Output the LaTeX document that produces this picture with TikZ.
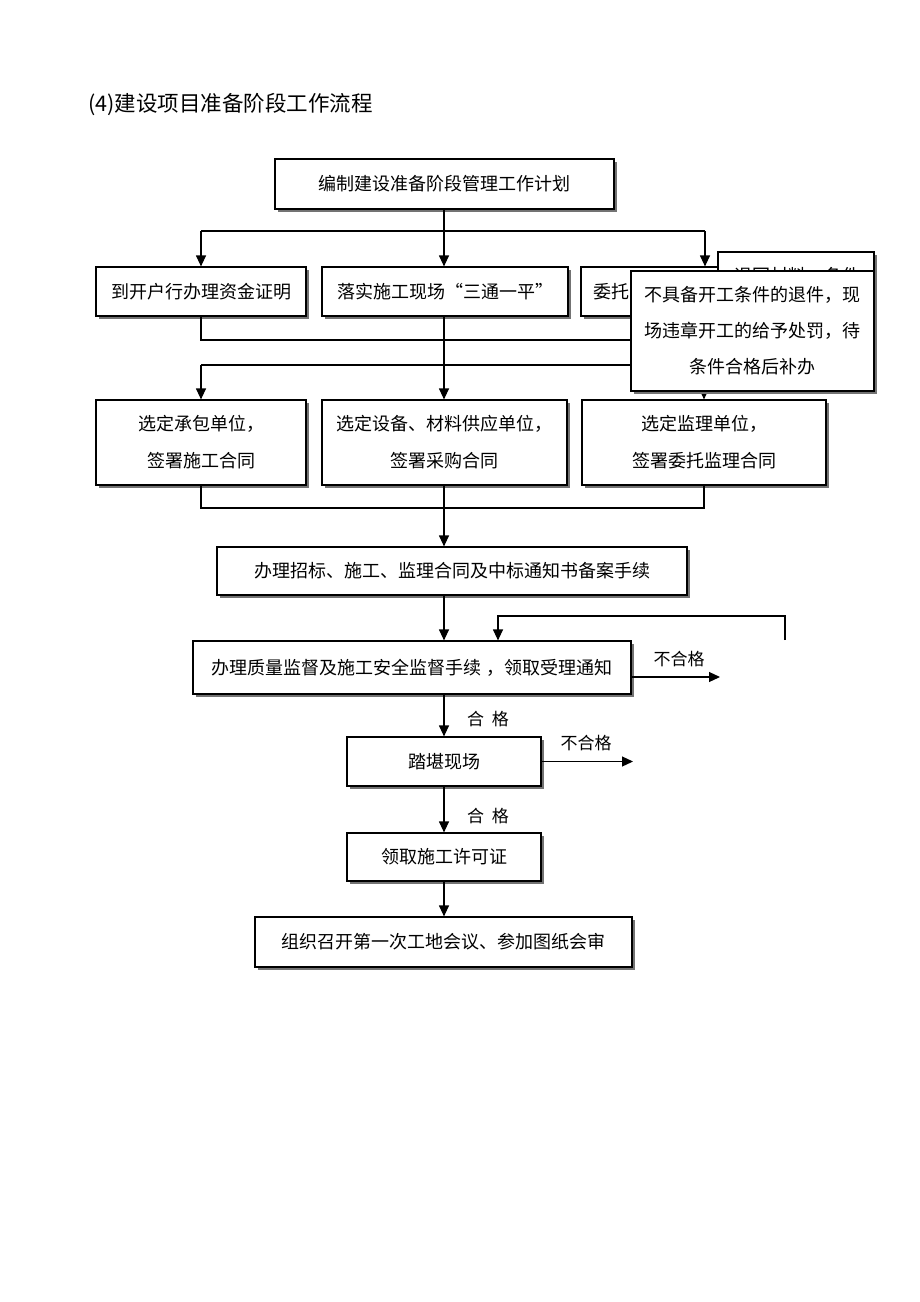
\documentclass[tikz,border=0pt]{standalone}
\usepackage{fontspec}
\setmainfont{Noto Sans CJK SC}
\usetikzlibrary{arrows.meta,shadows}
\begin{document}
\begin{tikzpicture}[x=1pt,y=-1pt,
  box/.style={draw, line width=1.2pt, fill=white, inner sep=0pt, align=center,
    font=\fontsize{18}{37}\selectfont,
    drop shadow={shadow xshift=3pt, shadow yshift=-3pt, fill=black!55, opacity=1}},
  lbl/.style={font=\fontsize{17}{20}\selectfont, inner sep=0pt},
  ln/.style={line width=1.2pt},
  arr/.style={line width=1.2pt, -{Triangle[length=11pt,width=10pt]}}]
\useasboundingbox[fill=white] (0,0) rectangle (920,1302);
\node[anchor=west, inner sep=0pt, font=\fontsize{21.5}{24}\selectfont] (title) at (88,105) {(4)建设项目准备阶段工作流程};
% boxes
\node[box, minimum width=339pt, minimum height=50pt] (A) at (444.5,184) {编制建设准备阶段管理工作计划};
\node[box, minimum width=210pt, minimum height=49pt] (B1) at (201,291.5) {到开户行办理资金证明};
\node[box, minimum width=246pt, minimum height=49pt] (B2) at (445,291.5) {落实施工现场“三通一平”};
\node[box, minimum width=248pt, minimum height=49pt] (B3) at (705,291.5) {};
\node[anchor=west, inner sep=0pt, font=\fontsize{18}{20}\selectfont] (B3t) at (593,291.5) {委托};
\node[box, minimum width=210pt, minimum height=85pt] (C1) at (201,442.5) {选定承包单位，\\签署施工合同};
\node[box, minimum width=245pt, minimum height=85pt] (C2) at (444.5,442.5) {选定设备、材料供应单位，\\签署采购合同};
\node[box, minimum width=244pt, minimum height=85pt] (C3) at (704,442.5) {选定监理单位，\\签署委托监理合同};
\node[box, minimum width=470pt, minimum height=48pt] (D) at (452,571) {办理招标、施工、监理合同及中标通知书备案手续};
\node[box, minimum width=438pt, minimum height=53pt] (E) at (412,667.5) {办理质量监督及施工安全监督手续 ，领取受理通知};
\node[box, minimum width=194pt, minimum height=49pt] (F) at (444,761.5) {踏堪现场};
\node[box, minimum width=194pt, minimum height=48pt] (G) at (444,857) {领取施工许可证};
\node[box, minimum width=377pt, minimum height=50pt] (H) at (443.5,942) {组织召开第一次工地会议、参加图纸会审};
% junctions
\coordinate (j1) at (444,231);
\coordinate (j1l) at (201,231);
\coordinate (j1r) at (705,231);
\coordinate (k1r) at (705,340);
\coordinate (k2l) at (201,365);
\coordinate (k2r) at (704,365);
\coordinate (m1) at (444,508);
\coordinate (m1l) at (201,508);
\coordinate (m1r) at (704,508);
\coordinate (fb1) at (785,640);
\coordinate (fb2) at (785,616);
\coordinate (fb3) at (498,616);
\coordinate (ng1) at (720,677);
\coordinate (ng2) at (633,761.5);
% connectors
\draw[ln] (A.south -| j1) -- (j1);
\draw[ln] (j1l) -- (j1r);
\draw[arr] (j1l) -- (B1.north);
\draw[arr] (j1) -- (j1 |- B2.north);
\draw[arr] (j1r) -- (B3.north);
\draw[ln] (B1.south) |- (k1r);
\draw[ln] (B3.south) -- (k1r);
\draw[ln] (k2l) -- (k2r);
\draw[arr] (B2.south -| j1) -- (j1 |- C2.north);
\draw[arr] (k2l) -- (C1.north);
\draw[arr] (k2r) -- (C3.north);
\draw[ln] (C1.south) |- (m1r) -- (C3.south);
\draw[ln] (C2.south -| m1) -- (m1);
\draw[arr] (m1) -- (m1 |- D.north);
\draw[arr] (m1 |- D.south) -- (m1 |- E.north);
\draw[arr] (fb1) -- (fb2) -- (fb3) -- (fb3 |- E.north);
\draw[arr] (E.east |- ng1) -- (ng1);
\node[lbl] (l1) at (679,659) {不合格};
\draw[arr] (m1 |- E.south) -- (F.north);
\node[lbl] (l2) at (488,719) {合\ \ 格};
\draw[arr] (F.east) -- (ng2);
\node[lbl] (l3) at (586,743) {不合格};
\draw[arr] (F.south) -- (G.north);
\node[lbl] (l4) at (488,816) {合\ \ 格};
\draw[arr] (G.south) -- (G.south |- H.north);
% overlapping note boxes
\node[box, minimum width=156pt, minimum height=48pt] (N1) at (796,276) {};
\node[inner sep=0pt, font=\fontsize{18}{20}\selectfont] (N1t) at (797,276) {退回材料，条件};
\node[box, minimum width=243pt, minimum height=120pt, font=\fontsize{18}{36}\selectfont] (N2) at (752.5,331) {不具备开工条件的退件，现\\场违章开工的给予处罚，待\\条件合格后补办};
\end{tikzpicture}
\end{document}
